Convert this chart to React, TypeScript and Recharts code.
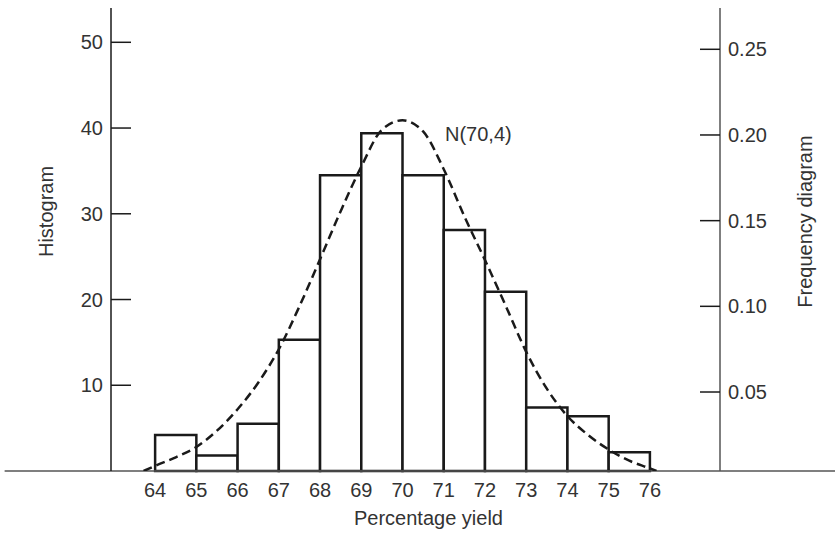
import React from 'react';
import {
  ComposedChart,
  Line,
  XAxis,
  YAxis,
  ReferenceArea,
  ReferenceLine,
  ReferenceDot,
} from 'recharts';

// Histogram bins (lower edge) and heights on the left "Histogram" scale
const binStarts = [64, 65, 66, 67, 68, 69, 70, 71, 72, 73, 74, 75];
const binCounts = [4.2, 1.8, 5.5, 15.3, 34.5, 39.4, 34.5, 28.1, 20.9, 7.4, 6.4, 2.2];

// Dashed N(70,4) curve (left-scale units)
const curveX = [63.72, 64, 64.5, 65, 65.5, 66, 66.5, 67, 67.5, 68, 68.5, 69, 69.5, 70, 70.5, 71, 71.5, 72, 72.5, 73, 73.5, 74, 74.5, 75, 75.5, 76, 76.16];
const curveY = [0, 0.6, 1.6, 2.8, 4.7, 7.2, 10.3, 14.2, 19.2, 24.7, 30.3, 35.5, 39.8, 40.9, 39.6, 35.2, 29.7, 24.6, 19.3, 13.9, 9.6, 6.4, 4.2, 2.5, 1.2, 0.3, 0];

const xTicks = [64, 65, 66, 67, 68, 69, 70, 71, 72, 73, 74, 75, 76];
const leftTicks = [10, 20, 30, 40, 50];
const rightTicks = [0.05, 0.1, 0.15, 0.2, 0.25];

const curveLabel = 'N(70,4)';
const curveLabelAt = { x: 71.03, y: 39.3 };

const data = curveX.map((x, i) => ({ x, y: curveY[i] }));

const FONT = 'Liberation Sans, Arial, Helvetica, sans-serif';
const TEXT = '#333';
const tickStyle = { fontSize: 20, fontFamily: FONT, fill: TEXT };

export default function App() {
  return (
    <div style={{ position: 'absolute', left: 0, top: 0, background: '#fff' }}>
      <ComposedChart
        width={835}
        height={537}
        data={data}
        margin={{ top: 8, right: 0, bottom: 0, left: 0 }}
      >
        <XAxis
          dataKey="x"
          type="number"
          domain={[62.93, 77.7]}
          allowDataOverflow
          ticks={xTicks}
          interval={0}
          axisLine={false}
          tickLine={false}
          tickSize={6}
          tickMargin={6}
          height={66}
          tick={tickStyle}
          label={{
            value: 'Percentage yield',
            position: 'insideBottom',
            offset: 12,
            dx: 13,
            style: { fontSize: 20, fontFamily: FONT, fill: TEXT },
          }}
        />
        <YAxis
          yAxisId="left"
          orientation="left"
          type="number"
          domain={[0, 54]}
          allowDataOverflow
          ticks={leftTicks}
          interval={0}
          width={111}
          axisLine={{ stroke: '#1a1a1a', strokeWidth: 1.5 }}
          tickLine={{ stroke: '#1a1a1a', strokeWidth: 1.5 }}
          tickSize={-20}
          tickMargin={28}
          tick={tickStyle}
          label={{
            value: 'Histogram',
            angle: -90,
            position: 'center',
            dx: -10,
            dy: -28,
            style: { fontSize: 20, fontFamily: FONT, fill: TEXT, textAnchor: 'middle' },
          }}
        />
        <YAxis
          yAxisId="right"
          orientation="right"
          type="number"
          domain={[0.0039, 0.2741]}
          allowDataOverflow
          ticks={rightTicks}
          interval={0}
          width={115}
          axisLine={{ stroke: '#555', strokeWidth: 1.5 }}
          tickLine={{ stroke: '#1a1a1a', strokeWidth: 1.5 }}
          tickSize={-20}
          tickMargin={28}
          tick={tickStyle}
          tickFormatter={(v: number) => v.toFixed(2)}
          label={{
            value: 'Frequency diagram',
            angle: -90,
            position: 'center',
            dx: 27,
            dy: -18,
            style: { fontSize: 20, fontFamily: FONT, fill: TEXT, textAnchor: 'middle' },
          }}
        />
        <ReferenceLine
          yAxisId="left"
          ifOverflow="visible"
          segment={[
            { x: 60.35, y: 0 },
            { x: 80.6, y: 0 },
          ]}
          stroke="#555"
          strokeWidth={1.5}
        />
        {binStarts.map((b, i) => (
          <ReferenceArea
            key={b}
            yAxisId="left"
            x1={b}
            x2={b + 1}
            y1={0}
            y2={binCounts[i]}
            fill="#fff"
            fillOpacity={1}
            stroke="#1a1a1a"
            strokeWidth={2.5}
            ifOverflow="visible"
          />
        ))}
        <Line
          yAxisId="left"
          dataKey="y"
          type="monotone"
          stroke="#1a1a1a"
          strokeWidth={2.5}
          strokeDasharray="9 5"
          dot={false}
          activeDot={false}
          isAnimationActive={false}
        />
        <ReferenceDot
          yAxisId="left"
          x={curveLabelAt.x}
          y={curveLabelAt.y}
          r={0}
          fill="none"
          stroke="none"
          ifOverflow="visible"
          label={{
            value: curveLabel,
            position: 'right',
            offset: 0,
            style: { fontSize: 20, fontFamily: FONT, fill: TEXT },
          }}
        />
      </ComposedChart>
    </div>
  );
}
